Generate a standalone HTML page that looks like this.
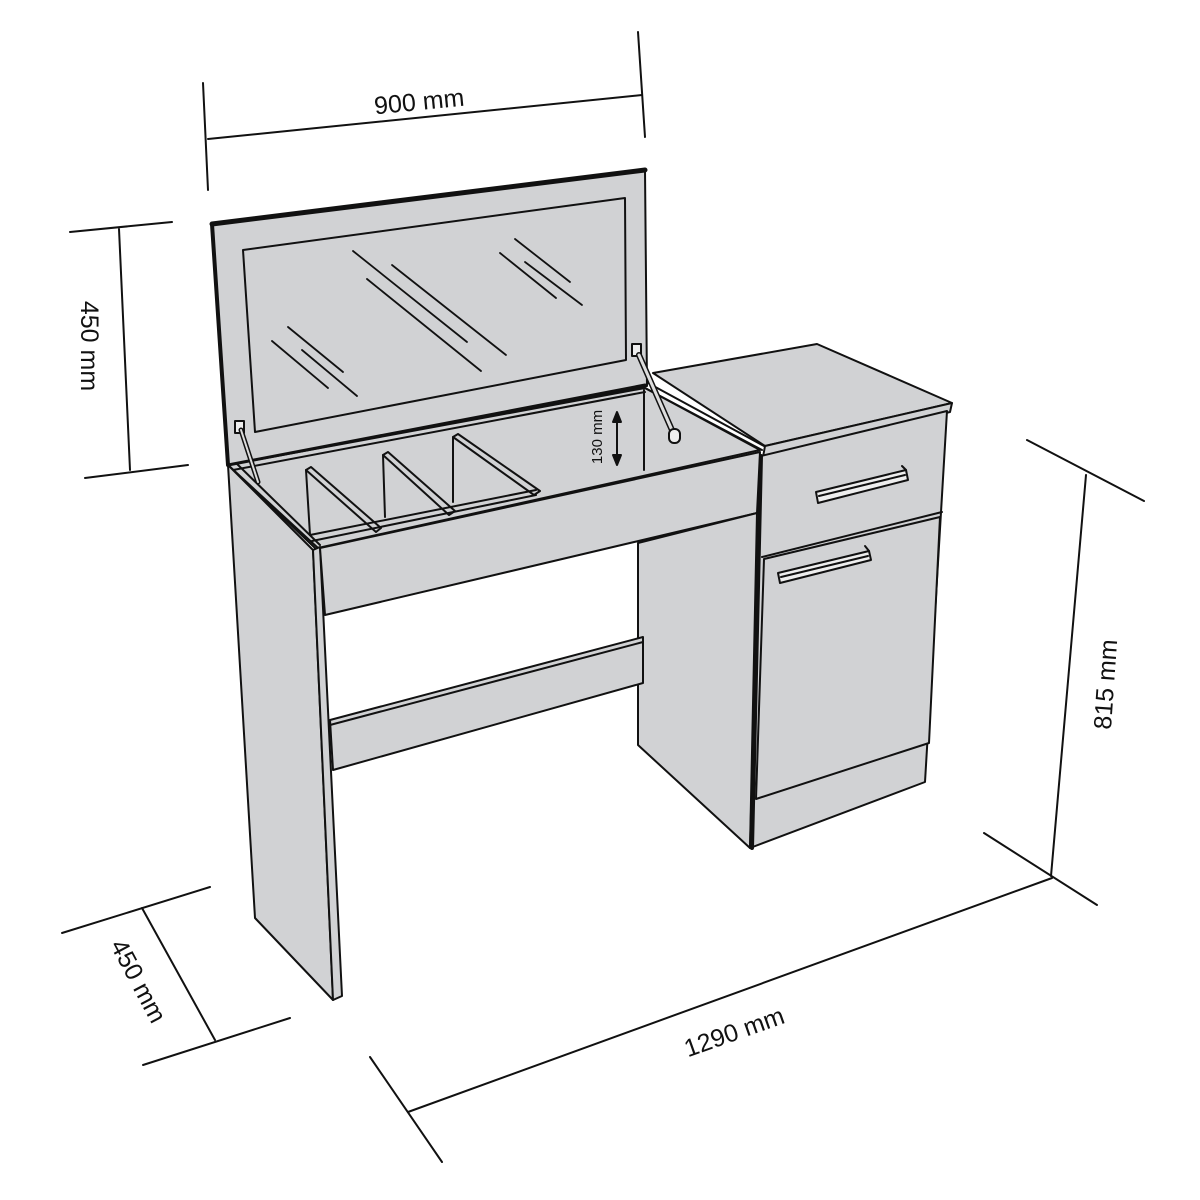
<!DOCTYPE html>
<html><head><meta charset="utf-8"><style>html,body{margin:0;padding:0;background:#fff}svg{display:block}text{font-family:"Liberation Sans",sans-serif;font-size:25px;fill:#111}</style></head>
<body>
<svg width="1200" height="1200" viewBox="0 0 1200 1200" xmlns="http://www.w3.org/2000/svg">
<g stroke="#111" stroke-width="2" fill="none" stroke-linejoin="round" stroke-linecap="round">
<!-- dimension lines -->
<line x1="203" y1="83" x2="208" y2="190"/>
<line x1="638" y1="32" x2="645" y2="137"/>
<line x1="208" y1="139" x2="642" y2="95"/>
<line x1="70" y1="232" x2="172" y2="222"/>
<line x1="85" y1="478" x2="188" y2="465"/>
<line x1="119" y1="229" x2="130" y2="470"/>
<line x1="1027" y1="440" x2="1144" y2="501"/>
<line x1="1086" y1="475" x2="1051" y2="876"/>
<line x1="984" y1="833" x2="1097" y2="905"/>
<line x1="62" y1="933" x2="210" y2="887"/>
<line x1="143" y1="1065" x2="290" y2="1018"/>
<line x1="142" y1="908" x2="215" y2="1040"/>
<line x1="370" y1="1057" x2="442" y2="1162"/>
<line x1="408" y1="1112" x2="1052" y2="878"/>
<line x1="1052" y1="878" x2="1000" y2="885" stroke="none"/>

<!-- lid -->
<polygon points="212,224 645,170 647,386 228,465" fill="#d1d2d4"/>
<line x1="212" y1="224" x2="645" y2="170" stroke-width="5"/>
<line x1="212" y1="224" x2="228" y2="465" stroke-width="4"/>
<polygon points="243,250 625,198 626,360 255,432"/>
<g stroke-width="1.8">
<line x1="288" y1="327" x2="343" y2="372"/><line x1="272" y1="341" x2="328" y2="388"/><line x1="302" y1="350" x2="357" y2="396"/>
<line x1="353" y1="251" x2="467" y2="342"/><line x1="367" y1="279" x2="481" y2="371"/><line x1="392" y1="265" x2="506" y2="355"/>
<line x1="500" y1="253" x2="556" y2="298"/><line x1="515" y1="239" x2="570" y2="282"/><line x1="525" y1="262" x2="582" y2="305"/>
</g>
<!-- box interior -->
<polygon points="228,465 645,388 760,450 318,548" fill="#d1d2d4"/>
<line x1="228" y1="465" x2="645" y2="385" stroke-width="3"/>
<line x1="233" y1="470" x2="645" y2="392"/>
<line x1="644" y1="390" x2="644" y2="470"/>
<!-- dividers -->
<polygon points="306,470 310,535 377,532" fill="#d1d2d4" stroke="none"/>
<line x1="306" y1="470" x2="310" y2="535"/>
<polygon points="306,470 311,467 381,528 376,532" fill="#d1d2d4"/>
<line x1="383" y1="455" x2="385" y2="517"/>
<polygon points="383,455 388,452 455,511 449,515" fill="#d1d2d4"/>
<line x1="453" y1="437" x2="453" y2="502"/>
<polygon points="453,437 458,434 540,491 534,495" fill="#d1d2d4"/>
<line x1="310" y1="535" x2="536" y2="490"/>
<line x1="312" y1="541" x2="536" y2="495"/>
<!-- rims -->
<line x1="228" y1="465" x2="315" y2="548"/>
<line x1="236" y1="463" x2="320" y2="545"/>
<line x1="645" y1="388" x2="762" y2="450"/>
<line x1="648" y1="383" x2="764" y2="446"/>
<!-- 130 mm arrow -->
<line x1="617" y1="414" x2="617" y2="463"/>
<polygon points="613,422 617,412 621,422" fill="#111"/>
<polygon points="613,455 617,465 621,455" fill="#111"/>
<!-- struts -->
<rect x="235" y="421" width="9" height="12" fill="#eee"/>
<line x1="241" y1="430" x2="258" y2="482" stroke-width="5"/><line x1="241" y1="430" x2="258" y2="482" stroke-width="2" stroke="#ddd"/>
<rect x="632" y="344" width="9" height="12" fill="#eee"/>
<line x1="639" y1="355" x2="675" y2="437" stroke-width="6"/><line x1="639" y1="355" x2="675" y2="437" stroke-width="3" stroke="#ddd"/>
<rect x="669" y="429" width="11" height="14" rx="5" fill="#eee"/>

<!-- left side panel -->
<polygon points="228,465 313,550 333,1000 255,918" fill="#d1d2d4"/>
<polygon points="313,550 320,547 342,996 333,1000" fill="#d1d2d4"/>
<!-- apron -->
<polygon points="320,548 760,452 757,513 325,615" fill="#d1d2d4"/>
<!-- pedestal side -->
<polygon points="638,543 757,513 750,848 638,745" fill="#d1d2d4"/>
<!-- stretcher -->
<polygon points="330,720 643,637 643,683 333,770" fill="#d1d2d4"/>
<line x1="330" y1="725" x2="643" y2="642"/>
<!-- cabinet top -->
<polygon points="653,373 817,344 952,403 765,446" fill="#d1d2d4"/>
<polygon points="765,446 952,403 950,412 763,457" fill="#d1d2d4"/>
<!-- cabinet front -->
<polygon points="761,456 947,411 925,782 750,848" fill="#d1d2d4"/>
<line x1="761" y1="456" x2="752" y2="848" stroke-width="4"/>
<line x1="762" y1="557" x2="942" y2="512"/>
<polygon points="764,559 940,517 929,743 756,799" fill="#d1d2d4"/>
<!-- handles -->
<polygon points="816,492 906,470 908,480 818,503" fill="#eee"/>
<line x1="819" y1="496" x2="905" y2="475"/>
<line x1="906" y1="470" x2="902" y2="466"/>
<polygon points="778,573 869,551 871,560 780,583" fill="#eee"/>
<line x1="781" y1="577" x2="868" y2="556"/>
<line x1="869" y1="551" x2="865" y2="546"/>
</g>
<text transform="translate(420,110) rotate(-5.6)" text-anchor="middle">900 mm</text>
<text transform="translate(81,346) rotate(90)" text-anchor="middle">450 mm</text>
<text transform="translate(1114,685) rotate(-86)" text-anchor="middle">815 mm</text>
<text transform="translate(131,985) rotate(62)" text-anchor="middle">450 mm</text>
<text transform="translate(737,1040) rotate(-19.5)" text-anchor="middle">1290 mm</text>
<text transform="translate(602,437) rotate(-90)" text-anchor="middle" style="font-size:15px">130 mm</text>
</svg>
</body></html>
